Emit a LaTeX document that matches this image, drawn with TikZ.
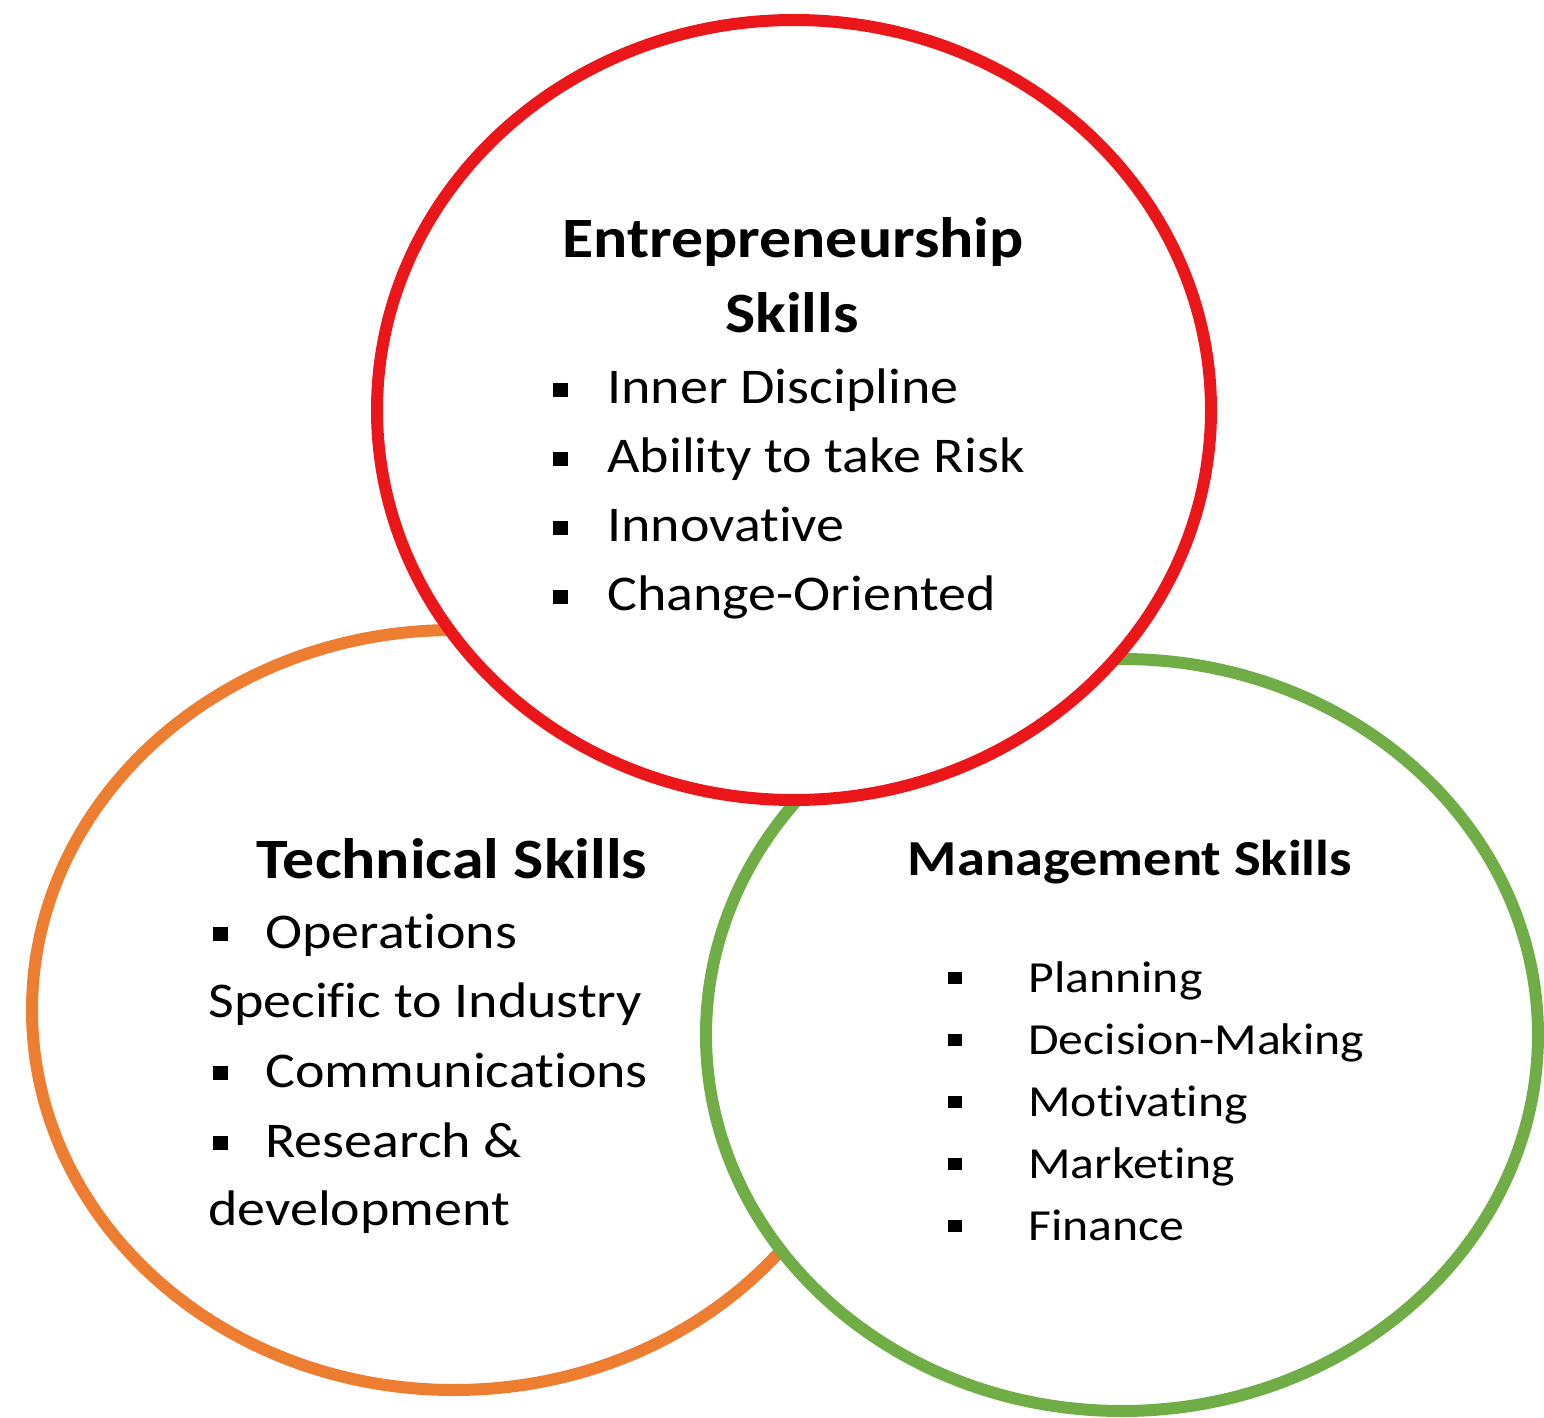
\documentclass[tikz,border=0pt]{standalone}
\usepackage{fontspec}
\setmainfont{Carlito}[FakeStretch=1.12, RawFeature={-liga;-clig;-calt;-dlig}]
\usetikzlibrary{shapes.geometric}
\definecolor{cred}{RGB}{235,22,26}
\definecolor{corange}{RGB}{237,125,49}
\definecolor{cgreen}{RGB}{112,173,71}
\tikzset{
  ring/.style={ellipse, draw, line width=6pt, fill=white, inner sep=0pt},
  ttl/.style={inner sep=0pt, font=\fontsize{28.5}{34}\selectfont\bfseries, anchor=base},
  ttlsmall/.style={ttl, font=\fontsize{25.2}{30}\selectfont\bfseries},
  itm/.style={inner sep=0pt, font=\fontsize{25}{30}\selectfont, anchor=base west},
  itmsmall/.style={itm, font=\fontsize{22.2}{26}\selectfont},
  bul/.style={fill=black, inner sep=0pt, minimum width=7.5pt, minimum height=7pt, draw=none},
  bulsmall/.style={bul, minimum width=6.8pt, minimum height=6pt}
}
\begin{document}
\begin{tikzpicture}[x=0.5pt, y=-0.5pt]
\useasboundingbox (0,0) rectangle (1544,1418);
% circles
\node[ring, draw=corange, minimum width=422pt, minimum height=380pt] (tech) at (454,1010) {};
\node[ring, draw=cgreen, minimum width=416pt, minimum height=376pt] (mgmt) at (1122,1035) {};
\node[ring, draw=cred, minimum width=417pt, minimum height=390pt] (entr) at (794,410) {};
% Entrepreneurship
\node[ttl] (e1) at (793,257) {Entrepreneurship};
\node[ttl] (e2) at (792,332) {Skills};
\foreach \y/\t [count=\i] in {403/Inner Discipline, 472/Ability to take Risk, 541/Innovative, 610/Change-Oriented}{
  \node[bul] (eb\i) at (560,\y-13) {};
  \node[itm] (ei\i) at (607,\y) {\t};
}
% Technical
\node[ttl] (t1) at (452,878) {Technical Skills};
\node[bul] (tb1) at (220,934) {};
\node[itm] (ti1) at (265,948) {Operations};
\node[itm] (ti2) at (208,1017) {Specific to Industry};
\node[bul] (tb3) at (220,1073) {};
\node[itm] (ti3) at (265,1087) {Communications};
\node[bul] (tb4) at (220,1143) {};
\node[itm] (ti4) at (265,1157) {Research \&};
\node[itm] (ti5) at (208,1225) {development};
% Management
\node[ttlsmall] (m1) at (1130,875) {Management Skills};
\foreach \y/\t [count=\i] in {992/Planning, 1054/Decision-Making, 1116/Motivating, 1178/Marketing, 1240/Finance}{
  \node[bulsmall] (mb\i) at (955,\y-14) {};
  \node[itmsmall] (mi\i) at (1028,\y) {\t};
}
\end{tikzpicture}
\end{document}
